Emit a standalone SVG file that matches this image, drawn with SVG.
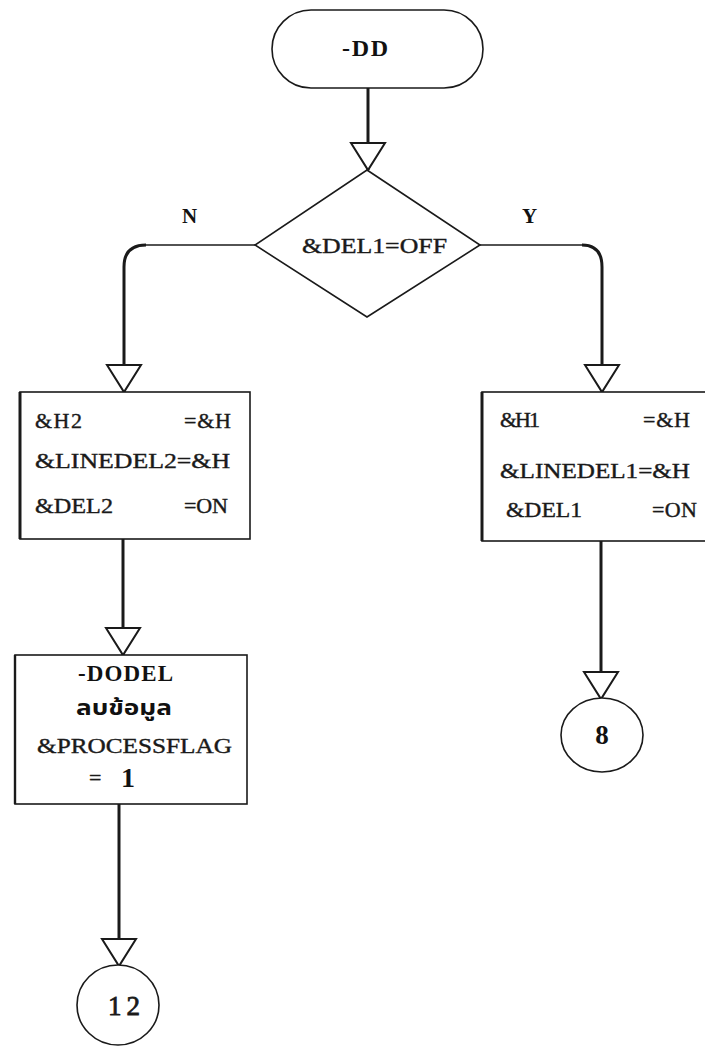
<svg xmlns="http://www.w3.org/2000/svg" width="705" height="1047" viewBox="0 0 705 1047">
<style>
.shape{fill:#fff;stroke:#1a1a1a;stroke-width:1.6}
.thick{fill:none;stroke:#1a1a1a;stroke-width:3}
.thin{fill:none;stroke:#1a1a1a;stroke-width:1.6}
.t{font-family:"Liberation Serif","DejaVu Serif",serif;font-size:22px;fill:#1a1a1a;stroke:#1a1a1a;stroke-width:0.4}
.b{font-family:"Liberation Serif","DejaVu Serif",serif;font-size:22px;font-weight:bold;fill:#111}
.th{font-family:"Noto Sans Thai","Noto Sans","DejaVu Sans",sans-serif;font-size:22px;font-weight:bold;fill:#111}
</style>
<defs>
<marker id="arr" markerUnits="userSpaceOnUse" viewBox="-2 -19 32 38" markerWidth="32" markerHeight="38" refX="27" refY="0" orient="auto" overflow="visible">
<path d="M0,-17 L0,17 L27,0 Z" fill="#fff" stroke="#1a1a1a" stroke-width="2"/>
</marker>
</defs>
<rect width="705" height="1047" fill="#fff"/>
<g id="connectors">
<path class="thick" d="M368 88 V170" marker-end="url(#arr)"/>
<path class="thin" d="M255 245 H146"/>
<path class="thick" d="M146 245 Q124 245 124 267 V392" marker-end="url(#arr)"/>
<path class="thin" d="M480 245 H582"/>
<path class="thick" d="M582 245 Q602 245 602 267 V392" marker-end="url(#arr)"/>
<path class="thick" d="M123 539 V655" marker-end="url(#arr)"/>
<path class="thick" d="M119 804 V966" marker-end="url(#arr)"/>
<path class="thick" d="M601 541 V699" marker-end="url(#arr)"/>
</g>
<g id="start">
<rect class="shape" x="272" y="10" width="211" height="78" rx="39" ry="39"/>
<text class="b" x="342" y="56" style="font-size:24px" textLength="46" lengthAdjust="spacing">-DD</text>
</g>
<g id="decision">
<polygon class="shape" points="367,170 480,245 367,317 255,245"/>
<text class="t" x="302" y="253" textLength="145" lengthAdjust="spacingAndGlyphs">&amp;DEL1=OFF</text>
</g>
<g id="labels">
<text class="b" x="182" y="223" style="font-size:21px">N</text>
<text class="b" x="522" y="223" style="font-size:21px">Y</text>
</g>
<g id="box-n">
<rect class="shape" x="20" y="392" width="230" height="147"/>
<line class="thick" x1="20" y1="392" x2="20" y2="539"/>
<text class="t" x="35" y="428" textLength="47" lengthAdjust="spacing">&amp;H2</text>
<text class="t" x="184" y="428" textLength="47" lengthAdjust="spacing">=&amp;H</text>
<text class="t" x="35" y="468" textLength="195" lengthAdjust="spacingAndGlyphs">&amp;LINEDEL2=&amp;H</text>
<text class="t" x="35" y="513" textLength="78" lengthAdjust="spacingAndGlyphs">&amp;DEL2</text>
<text class="t" x="184" y="513" textLength="44" lengthAdjust="spacing">=ON</text>
</g>
<g id="box-y">
<rect class="shape" x="482" y="392" width="240" height="149"/>
<line class="thick" x1="482" y1="392" x2="482" y2="541"/>
<text class="t" x="500" y="427" textLength="40" lengthAdjust="spacing">&amp;H1</text>
<text class="t" x="643" y="427" textLength="47" lengthAdjust="spacing">=&amp;H</text>
<text class="t" x="500" y="478" textLength="190" lengthAdjust="spacingAndGlyphs">&amp;LINEDEL1=&amp;H</text>
<text class="t" x="506" y="517" textLength="76" lengthAdjust="spacingAndGlyphs">&amp;DEL1</text>
<text class="t" x="652" y="517" textLength="45" lengthAdjust="spacing">=ON</text>
</g>
<g id="box-dodel">
<rect class="shape" x="15" y="655" width="232" height="149"/>
<line class="thin" x1="15" y1="655" x2="15" y2="804" style="stroke-width:2.4"/>
<text class="b" x="78" y="681" style="font-size:23px" textLength="95" lengthAdjust="spacing">-DODEL</text>
<text class="th" x="124" y="715" text-anchor="middle" textLength="96" lengthAdjust="spacingAndGlyphs">ลบข้อมูล</text>
<text class="t" x="37" y="753" textLength="195" lengthAdjust="spacingAndGlyphs">&amp;PROCESSFLAG</text>
<text class="t" x="89" y="785">=</text>
<text class="b" x="121" y="787" style="font-size:28px">1</text>
</g>
<g id="conn-8">
<ellipse class="shape" cx="602" cy="735" rx="41" ry="37"/>
<text class="b" x="602" y="744" style="font-size:27px" text-anchor="middle">8</text>
</g>
<g id="conn-12">
<ellipse class="shape" cx="118" cy="1005" rx="41" ry="40"/>
<text class="t" x="124" y="1015" style="font-size:27px;stroke-width:0.8" text-anchor="middle" textLength="32" lengthAdjust="spacing">12</text>
</g>
</svg>
